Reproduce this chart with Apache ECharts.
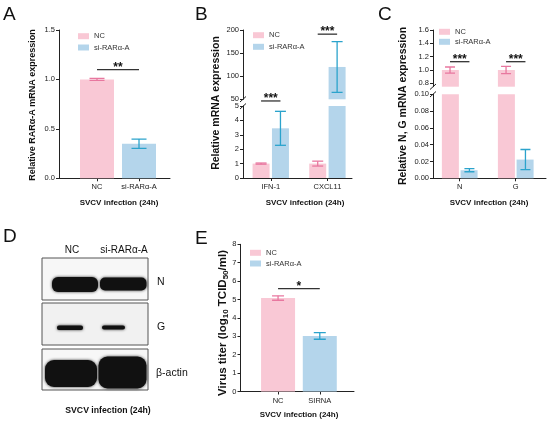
<!DOCTYPE html>
<html>
<head>
<meta charset="utf-8">
<script src="https://cdn.jsdelivr.net/npm/echarts@6/dist/echarts.min.js"></script>
<style>
html, body { margin: 0; padding: 0; background: #fff; }
#main { width: 550px; height: 424px; }
</style>
</head>
<body>
<div id="main"></div>
<script>
//   A: RARa-A knockdown
var catA = ['NC', 'si-RARα-A'];
var meanA = [1.0, 0.35];
var errA = [0.01, 0.047];
var sigA = [1.1];
var starsA = ['**'];

//   B: IFN-1 / CXCL11
var catB = ['IFN-1', 'CXCL11'];
var ncB = [1.0, 1.0];
var ncErrB = [0.04, 0.17];
var siB = [3.45, 120];
var siErrB = [1.18, 55];
var sigB = [5.35, 191];
var starsB = ['***', '***'];

//   C: N, G
var catC = ['N', 'G'];
var ncC = [1.0, 1.0];
var ncErrC = [0.045, 0.055];
var siC = [0.0096, 0.0223];
var siErrC = [0.0018, 0.012];
var sigC = [1.125, 1.125];
var starsC = ['***', '***'];
var ticksCUp = [0.8, 1.0, 1.2, 1.4, 1.6];

//   E: virus titer
var catE = ['NC', 'SIRNA'];
var meanE = [5.08, 3.02];
var errE = [0.12, 0.18];
var sigE = [5.59];
var starsE = ['*'];

var legendNames = ['NC', 'si-RARα-A'];

var FONT = '"Liberation Sans", Arial, sans-serif';
var PINK = '#f9c8d5', BLUE = '#b4d5eb', PINK_ERR = '#e8779f', BLUE_ERR = '#2ba3cc';
var INK = '#222';

//   x axis: value axis, ticks only at category indexes
var catAxis = function (grid, cats, min, max, show) {
	var idx = cats.map(function (c, i) { return i; });
	return {
		type: 'value', gridIndex: grid, min: min, max: max, show: show !== false,
		splitLine: { show: false },
		axisLine: { onZero: false, lineStyle: { color: INK, width: 1 } },
		axisTick: { customValues: idx, length: 3, lineStyle: { color: INK } },
		axisLabel: {
			customValues: idx, fontSize: 7.5, color: INK, margin: 5, fontFamily: FONT,
			formatter: function (v) { return cats[Math.round(v)]; }
		}
	};
}

var valAxis = function (grid, min, max, interval, digits, custom) {
	var ax = {
		type: 'value', gridIndex: grid, min: min, max: max,
		splitLine: { show: false },
		axisLine: { show: true, onZero: false, lineStyle: { color: INK, width: 1 } },
		axisTick: { show: true, length: 3, lineStyle: { color: INK } },
		axisLabel: {
			fontSize: 7.5, color: INK, margin: 4, fontFamily: FONT,
			formatter: function (v) { return (+v).toFixed(digits); }
		}
	};
	if (interval) ax.interval = interval;
	if (custom) {
		ax.axisTick.customValues = custom;
		ax.axisLabel.customValues = custom;
	}
	return ax;
}

var bar = function (name, xi, yi, data, color, width, gap) {
	return {
		type: 'bar', name: name, xAxisIndex: xi, yAxisIndex: yi, data: data,
		barWidth: width, barGap: gap, itemStyle: { color: color },
		clip: true, silent: true, z: 2
	};
}

//   error bars, dx = pixel shift from the category centre
var errBars = function (xi, yi, means, errs, colors, dx, cap) {
	return {
		type: 'custom', xAxisIndex: xi, yAxisIndex: yi, clip: true, silent: true, z: 5,
		data: means.map(function (m, i) { return [i, m, errs[i]]; }),
		renderItem: function (params, api) {
			var x = api.value(0), m = api.value(1), e = api.value(2);
			var top = api.coord([x, m + e]);
			var bot = api.coord([x, m - e]);
			var cx = top[0] + dx;
			var st = { stroke: colors[params.dataIndex % colors.length], lineWidth: 1.3 };
			return {
				type: 'group', children: [
					{ type: 'line', shape: { x1: cx, y1: top[1], x2: cx, y2: bot[1] }, style: st },
					{ type: 'line', shape: { x1: cx - cap / 2, y1: top[1], x2: cx + cap / 2, y2: top[1] }, style: st },
					{ type: 'line', shape: { x1: cx - cap / 2, y1: bot[1], x2: cx + cap / 2, y2: bot[1] }, style: st }
				]
			};
		}
	};
}

//   significance bracket: [from, to, y]
var sigLine = function (xi, yi, data, stars, dx) {
	return {
		type: 'custom', xAxisIndex: xi, yAxisIndex: yi, clip: false, silent: true, z: 6,
		data: data,
		renderItem: function (params, api) {
			var p0 = api.coord([api.value(0), api.value(2)]);
			var p1 = api.coord([api.value(1), api.value(2)]);
			var x0 = p0[0] - dx, x1 = p1[0] + dx, y = p0[1];
			return {
				type: 'group', children: [
					{ type: 'line', shape: { x1: x0, y1: y, x2: x1, y2: y }, style: { stroke: '#333', lineWidth: 1.3 } },
					{
						type: 'text', x: (x0 + x1) / 2, y: y - 2,
						style: {
							text: stars[params.dataIndex], fill: '#111', font: 'bold 12px ' + FONT,
							align: 'center', verticalAlign: 'middle', textAlign: 'center', textVerticalAlign: 'middle'
						}
					}
				]
			};
		}
	};
}

var legend = function (left, top, gap) {
	return {
		left: left, top: top, orient: 'vertical', padding: 0, icon: 'rect',
		itemWidth: 11, itemHeight: 6, itemGap: gap, selectedMode: false,
		data: legendNames,
		textStyle: { fontSize: 7.5, color: '#333', fontFamily: FONT }
	};
}

var txt = function (s, x, y, font, align, vAlign, rot) {
	return {
		type: 'text', x: x, y: y, rotation: rot || 0, silent: true,
		style: {
			text: s, fill: '#111', font: font,
			align: align || 'left', verticalAlign: vAlign || 'top',
			textAlign: align || 'left', textVerticalAlign: vAlign || 'top'
		}
	};
}

var blotBox = function (x, y, w, h, fill) {
	return { type: 'rect', silent: true, shape: { x: x, y: y, width: w, height: h }, style: { fill: fill, stroke: '#555', lineWidth: 1 } };
}
var band = function (x, y, w, h, r) {
	return {
		type: 'rect', silent: true, shape: { x: x, y: y, width: w, height: h, r: r },
		style: { fill: '#111', shadowBlur: 3, shadowColor: 'rgba(0,0,0,0.8)' }
	};
}

var dB = 9.7, dC = 9.7;
var pick = function (arr, stars, test) {
	var out = [], st = [];
	arr.forEach(function (y, i) { if (test(y)) { out.push([i, i, y]); st.push(stars[i]); } });
	return { data: out, stars: st };
}
var sigBUp = pick(sigB, starsB, function (y) { return y >= 50; });
var sigBLow = pick(sigB, starsB, function (y) { return y < 50; });

var LABEL = 'bold 8px ' + FONT;
var YNAME = 'bold 10.5px ' + FONT;

var option = {
	animation: false,
	backgroundColor: '#fff',
	textStyle: { fontFamily: FONT },
	grid: [
		{ left: 59, top: 30, width: 111, height: 148.3 },
		{ left: 243, top: 30, width: 109, height: 69.3 },
		{ left: 243, top: 106, width: 109, height: 72 },
		{ left: 433, top: 30, width: 113, height: 56.7 },
		{ left: 433, top: 94.3, width: 113, height: 84 },
		{ left: 240.5, top: 244.3, width: 113.5, height: 147.2 }
	],
	xAxis: [
		catAxis(0, catA, -0.905, 1.738),
		catAxis(1, catB, -0.49, 1.434, false),
		catAxis(2, catB, -0.49, 1.434),
		catAxis(3, catC, -0.477, 1.54, false),
		catAxis(4, catC, -0.477, 1.54),
		catAxis(5, catE, -0.9, 1.82)
	],
	yAxis: [
		valAxis(0, 0, 1.5, 0.5, 1),
		valAxis(1, 50, 200, 50, 0),
		valAxis(2, 0, 5, 1, 0),
		valAxis(3, 0.75, 1.6, null, 1, ticksCUp),
		valAxis(4, 0, 0.1, 0.02, 2),
		valAxis(5, 0, 8, 1, 0)
	],
	legend: [
		legend(78, 32.2, 3.3),
		legend(253, 31.2, 3.6),
		legend(439, 27.8, 2),
		legend(250, 248.8, 2.7)
	],
	series: [
		//   A
		bar('NC', 0, 0, [[0, meanA[0]]], PINK, 34, '-100%'),
		bar('si-RARα-A', 0, 0, [[1, meanA[1]]], BLUE, 34, '-100%'),
		errBars(0, 0, meanA, errA, [PINK_ERR, BLUE_ERR], 0, 15),
		sigLine(0, 0, [[0, 1, sigA[0]]], starsA, 0),
		//   B upper + lower
		bar('NC', 1, 1, ncB.map(function (v, i) { return [i, v]; }), PINK, 17, '14%'),
		bar('si-RARα-A', 1, 1, siB.map(function (v, i) { return [i, v]; }), BLUE, 17, '14%'),
		bar('NC', 2, 2, ncB.map(function (v, i) { return [i, v]; }), PINK, 17, '14%'),
		bar('si-RARα-A', 2, 2, siB.map(function (v, i) { return [i, v]; }), BLUE, 17, '14%'),
		errBars(1, 1, ncB, ncErrB, [PINK_ERR], -dB, 11),
		errBars(1, 1, siB, siErrB, [BLUE_ERR], dB, 11),
		errBars(2, 2, ncB, ncErrB, [PINK_ERR], -dB, 11),
		errBars(2, 2, siB, siErrB, [BLUE_ERR], dB, 11),
		sigLine(1, 1, sigBUp.data, sigBUp.stars, dB),
		sigLine(2, 2, sigBLow.data, sigBLow.stars, dB),
		//   C upper + lower
		bar('NC', 3, 3, ncC.map(function (v, i) { return [i, v]; }), PINK, 17, '10%'),
		bar('si-RARα-A', 3, 3, siC.map(function (v, i) { return [i, v]; }), BLUE, 17, '10%'),
		bar('NC', 4, 4, ncC.map(function (v, i) { return [i, v]; }), PINK, 17, '10%'),
		bar('si-RARα-A', 4, 4, siC.map(function (v, i) { return [i, v]; }), BLUE, 17, '10%'),
		errBars(3, 3, ncC, ncErrC, [PINK_ERR], -dC, 10),
		errBars(3, 3, siC, siErrC, [BLUE_ERR], dC, 10),
		errBars(4, 4, ncC, ncErrC, [PINK_ERR], -dC, 10),
		errBars(4, 4, siC, siErrC, [BLUE_ERR], dC, 10),
		sigLine(3, 3, sigC.map(function (y, i) { return [i, i, y]; }), starsC, dC),
		//   E
		bar('NC', 5, 5, [[0, meanE[0]]], PINK, 34, '-100%'),
		bar('si-RARα-A', 5, 5, [[1, meanE[1]]], BLUE, 34, '-100%'),
		errBars(5, 5, meanE, errE, [PINK_ERR, BLUE_ERR], 0, 12),
		sigLine(5, 5, [[0, 1, sigE[0]]], starsE, 0)
	],
	graphic: [
		//   panel letters
		txt('A', 3, 5, '19px ' + FONT),
		txt('B', 195, 5, '19px ' + FONT),
		txt('C', 378, 5, '19px ' + FONT),
		txt('D', 3, 227, '19px ' + FONT),
		txt('E', 195, 229, '19px ' + FONT),
		//   y names
		txt('Relative RARα-A mRNA expression', 32.5, 105, 'bold 9px ' + FONT, 'center', 'middle', Math.PI / 2),
		txt('Relative mRNA expression', 216.5, 103, YNAME, 'center', 'middle', Math.PI / 2),
		txt('Relative N, G mRNA expression', 403, 106, YNAME, 'center', 'middle', Math.PI / 2),
		{
			type: 'text', x: 223, y: 323, rotation: Math.PI / 2, silent: true,
			style: {
				text: '{b|Virus titer (log}{s|10}{b| TCID}{s|50}{b|/ml)}',
				align: 'center', verticalAlign: 'middle', textAlign: 'center', textVerticalAlign: 'middle',
				rich: {
					b: { font: 'bold 11.5px ' + FONT, fill: '#111' },
					s: { font: 'bold 8px ' + FONT, fill: '#111', padding: [5, 0, 0, 0] }
				}
			}
		},
		//   x captions
		txt('SVCV infection (24h)', 119, 203, LABEL, 'center', 'middle'),
		txt('SVCV infection (24h)', 305, 203, LABEL, 'center', 'middle'),
		txt('SVCV infection (24h)', 489, 203, LABEL, 'center', 'middle'),
		txt('SVCV infection (24h)', 108, 411, 'bold 8.7px ' + FONT, 'center', 'middle'),
		txt('SVCV infection (24h)', 299, 415, LABEL, 'center', 'middle'),
		//   axis breaks
		{ type: 'line', silent: true, shape: { x1: 240, y1: 102, x2: 246, y2: 96.5 }, style: { stroke: INK, lineWidth: 1 } },
		{ type: 'line', silent: true, shape: { x1: 240, y1: 109, x2: 246, y2: 103.5 }, style: { stroke: INK, lineWidth: 1 } },
		{ type: 'line', silent: true, shape: { x1: 430, y1: 89.5, x2: 436, y2: 84 }, style: { stroke: INK, lineWidth: 1 } },
		{ type: 'line', silent: true, shape: { x1: 430, y1: 97, x2: 436, y2: 91.5 }, style: { stroke: INK, lineWidth: 1 } },
		//   D: western blot
		txt('NC', 72, 250, '10px ' + FONT, 'center', 'middle'),
		txt('si-RARα-A', 124, 250, '10px ' + FONT, 'center', 'middle'),
		blotBox(42, 258, 106, 42, '#f7f7f7'),
		blotBox(42, 303, 106, 42, '#f1f1f1'),
		blotBox(42, 349, 106, 41, '#f7f7f7'),
		band(52, 277, 46, 15, 6),
		band(100, 277.5, 46.5, 13, 5),
		band(57, 325.5, 26, 4.5, 2),
		band(102, 325.5, 23, 4, 2),
		band(45, 360, 52, 27, 9),
		band(98.5, 356.5, 48, 32, 9),
		txt('N', 157, 282, '10.5px ' + FONT, 'left', 'middle'),
		txt('G', 157, 327, '10.5px ' + FONT, 'left', 'middle'),
		txt('β-actin', 156, 373, '10.5px ' + FONT, 'left', 'middle')
	]
};

var chart = echarts.init(document.getElementById('main'));
chart.setOption(option);
</script>
</body>
</html>
